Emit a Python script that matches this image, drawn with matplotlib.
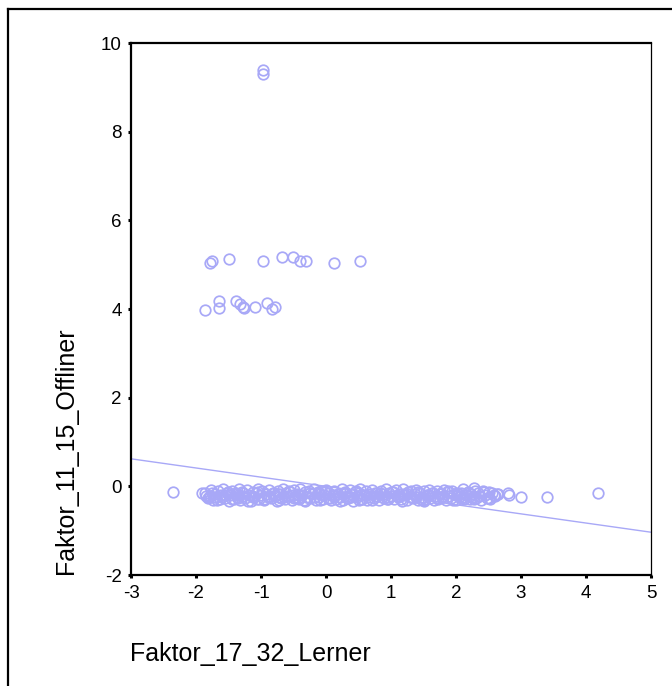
import numpy as np
import matplotlib
matplotlib.use('Agg')
import matplotlib.pyplot as plt
from matplotlib.lines import Line2D

plt.rcParams['font.family'] = ['Liberation Sans', 'DejaVu Sans']
plt.rcParams['axes.unicode_minus'] = False

# outlying cases
top_x = [-0.97, -0.97]
top_y = [9.39, 9.29]

five_x = [-1.785, -1.758, -1.488, -0.965, -0.672, -0.503, -0.40, -0.312, 0.118, 0.523]
five_y = [5.045, 5.09, 5.12, 5.08, 5.17, 5.17, 5.08, 5.08, 5.045, 5.08]

four_x = [-1.862, -1.646, -1.646, -1.385, -1.323, -1.282, -1.257, -1.097, -0.912, -0.835, -0.785]
four_y = [3.98, 4.18, 4.02, 4.18, 4.11, 4.05, 4.03, 4.05, 4.14, 4.00, 4.05]

# isolated points at the ends of the main band
edge_x = [-2.35, -1.91, 1.50, 2.27, 2.65, 2.80, 2.82, 3.00, 3.405, 4.19]
edge_y = [-0.134, -0.16, -0.32, -0.045, -0.17, -0.16, -0.195, -0.25, -0.247, -0.16]

# main band of cases around zero
band_x = [
    -1.86, -1.82, -1.79, -1.77, -1.74, -1.71, -1.69, -1.66, -1.63, -1.61,
    -1.58, -1.55, -1.53, -1.50, -1.47, -1.45, -1.42, -1.40, -1.37, -1.34,
    -1.32, -1.29, -1.27, -1.24, -1.21, -1.19, -1.16, -1.13, -1.11, -1.08,
    -1.05, -1.03, -1.00, -0.98, -0.95, -0.92, -0.90, -0.87, -0.84, -0.82,
    -0.79, -0.76, -0.74, -0.71, -0.69, -0.66, -0.63, -0.61, -0.58, -0.55,
    -0.53, -0.50, -0.47, -0.45, -0.42, -0.40, -0.37, -0.34, -0.32, -0.29,
    -0.26, -0.24, -0.21, -0.18, -0.16, -0.13, -0.11, -0.08, -0.05, -0.03,
    0.00, 0.03, 0.05, 0.08, 0.11, 0.13, 0.16, 0.19, 0.21, 0.24,
    0.26, 0.29, 0.32, 0.34, 0.37, 0.40, 0.42, 0.45, 0.47, 0.50,
    0.53, 0.55, 0.58, 0.61, 0.63, 0.66, 0.68, 0.71, 0.74, 0.76,
    0.79, 0.82, 0.84, 0.87, 0.89, 0.92, 0.95, 0.97, 1.00, 1.03,
    1.05, 1.08, 1.10, 1.13, 1.16, 1.18, 1.21, 1.24, 1.26, 1.29,
    1.31, 1.34, 1.37, 1.39, 1.42, 1.45, 1.47, 1.50, 1.52, 1.55,
    1.58, 1.60, 1.63, 1.66, 1.68, 1.71, 1.73, 1.76, 1.79, 1.81,
    1.84, 1.87, 1.89, 1.92, 1.94, 1.97, 2.00, 2.02, 2.05, 2.08,
    2.10, 2.13, 2.15, 2.18, 2.21, 2.23, 2.26, 2.29, 2.31, 2.34,
    2.36, 2.39, 2.42, 2.44, 2.47, 2.50, 2.53, 2.56, 2.60, 2.63,
    -1.80, -1.56, -1.35, -1.14, -0.93, -0.72, -0.51, -0.30, -0.09, 0.12,
    0.33, 0.54, 0.75, 0.96, 1.17, 1.38, 1.59, 1.80, 2.01, 2.22,
    -1.84, -1.75, -1.68, -1.60, -1.51, -1.44, -1.36, -1.28, -1.20, -1.12,
    -1.04, -0.96, -0.88, -0.80, -0.73, -0.65, -0.57, -0.49, -0.41, -0.33,
    -0.25, -0.17, -0.10, -0.02, 0.06, 0.14, 0.22, 0.30, 0.38, 0.46,
    0.54, 0.62, 0.70, 0.78, 0.86, 0.94, 1.02, 1.09, 1.17, 1.25,
    1.33, 1.41, 1.49, 1.57, 1.65, 1.72, 1.80, 1.88, 1.96, 2.04,
    2.12, 2.20, 2.28, 2.35, 2.43, 2.51, 2.58, -1.72, -1.39, -1.06,
    -0.74, -0.43, -0.12, 0.20, 0.51, 0.83, 1.14, 1.46, 1.77, 2.09,
]
band_y = [
    -0.14, -0.27, -0.21, -0.09, -0.31, -0.17, -0.25, -0.11, -0.29, -0.19,
    -0.07, -0.26, -0.15, -0.32, -0.20, -0.10, -0.28, -0.18, -0.24, -0.06,
    -0.30, -0.13, -0.22, -0.27, -0.08, -0.19, -0.33, -0.12, -0.25, -0.16,
    -0.05, -0.29, -0.20, -0.11, -0.31, -0.17, -0.23, -0.08, -0.27, -0.14,
    -0.21, -0.32, -0.10, -0.18, -0.26, -0.06, -0.29, -0.15, -0.22, -0.12,
    -0.30, -0.09, -0.24, -0.17, -0.28, -0.07, -0.20, -0.31, -0.13, -0.25,
    -0.10, -0.27, -0.18, -0.06, -0.30, -0.15, -0.23, -0.11, -0.28, -0.19,
    -0.08, -0.26, -0.14, -0.31, -0.21, -0.10, -0.29, -0.17, -0.24, -0.07,
    -0.30, -0.12, -0.22, -0.27, -0.09, -0.18, -0.32, -0.13, -0.25, -0.16,
    -0.06, -0.28, -0.20, -0.11, -0.30, -0.17, -0.23, -0.08, -0.27, -0.14,
    -0.21, -0.31, -0.10, -0.18, -0.26, -0.07, -0.29, -0.15, -0.22, -0.12,
    -0.29, -0.09, -0.24, -0.17, -0.28, -0.06, -0.20, -0.31, -0.13, -0.25,
    -0.10, -0.27, -0.18, -0.08, -0.30, -0.15, -0.23, -0.11, -0.28, -0.19,
    -0.09, -0.26, -0.14, -0.31, -0.21, -0.11, -0.29, -0.17, -0.24, -0.08,
    -0.30, -0.13, -0.22, -0.27, -0.10, -0.18, -0.31, -0.14, -0.25, -0.16,
    -0.07, -0.28, -0.20, -0.12, -0.29, -0.17, -0.23, -0.10, -0.27, -0.15,
    -0.21, -0.30, -0.11, -0.19, -0.26, -0.13, -0.28, -0.16, -0.22, -0.18,
    -0.24, -0.19, -0.26, -0.21, -0.18, -0.25, -0.20, -0.23, -0.17, -0.22,
    -0.26, -0.19, -0.21, -0.24, -0.18, -0.23, -0.20, -0.25, -0.19, -0.22,
    -0.22, -0.16, -0.30, -0.24, -0.12, -0.28, -0.20, -0.15, -0.33, -0.23,
    -0.13, -0.29, -0.21, -0.16, -0.31, -0.24, -0.11, -0.27, -0.19, -0.32,
    -0.15, -0.23, -0.30, -0.12, -0.26, -0.20, -0.33, -0.16, -0.24, -0.11,
    -0.28, -0.19, -0.31, -0.14, -0.23, -0.29, -0.12, -0.21, -0.32, -0.17,
    -0.25, -0.13, -0.30, -0.20, -0.15, -0.27, -0.22, -0.11, -0.31, -0.18,
    -0.24, -0.14, -0.29, -0.21, -0.12, -0.26, -0.20, -0.25, -0.16, -0.28,
    -0.17, -0.27, -0.12, -0.24, -0.30, -0.14, -0.22, -0.28, -0.15, -0.26,
]

# fitted regression line
fit_intercept = 0.0
fit_slope = -0.207

x_ticks = [-3, -2, -1, 0, 1, 2, 3, 4, 5]
y_ticks = [-2, 0, 2, 4, 6, 8, 10]

point_color = '#a8a8f7'

fig = plt.figure(figsize=(6.72, 6.86), dpi=100)
ax = fig.add_axes([131 / 672, 1 - 575 / 686, 520 / 672, 532 / 686])

all_x = band_x + edge_x + four_x + five_x + top_x
all_y = band_y + edge_y + four_y + five_y + top_y
ax.plot(all_x, all_y, linestyle='none', marker='o', markersize=7.6,
        markerfacecolor='none', markeredgecolor=point_color, markeredgewidth=1.25)
ax.axline((0, fit_intercept), slope=fit_slope, color=point_color, linewidth=1.0)

ax.set_xlim(-3, 5)
ax.set_ylim(-2, 10)
ax.set_xticks(x_ticks)
ax.set_yticks(y_ticks)
ax.tick_params(direction='out', length=2.5, width=2.2, labelsize=13.5, color='black')
ax.tick_params(axis='x', pad=5)
ax.tick_params(axis='y', pad=4)

for side in ['left', 'bottom', 'top']:
    ax.spines[side].set_linewidth(1.6)
ax.spines['right'].set_linewidth(0.9)

fig.text(66 / 672, 1 - 451 / 686, 'Faktor_11_15_Offliner', rotation=90,
         ha='center', va='center', fontsize=18)
fig.text(130 / 672, 1 - 654 / 686, 'Faktor_17_32_Lerner',
         ha='left', va='center', fontsize=18)

# outer frame (top and left edges visible)
fig.add_artist(Line2D([8 / 672, 1.0], [1 - 9 / 686, 1 - 9 / 686],
                      transform=fig.transFigure, color='black', linewidth=1.6))
fig.add_artist(Line2D([8 / 672, 8 / 672], [0.0, 1 - 9 / 686],
                      transform=fig.transFigure, color='black', linewidth=1.6))

fig.savefig('out.png', dpi=100)
